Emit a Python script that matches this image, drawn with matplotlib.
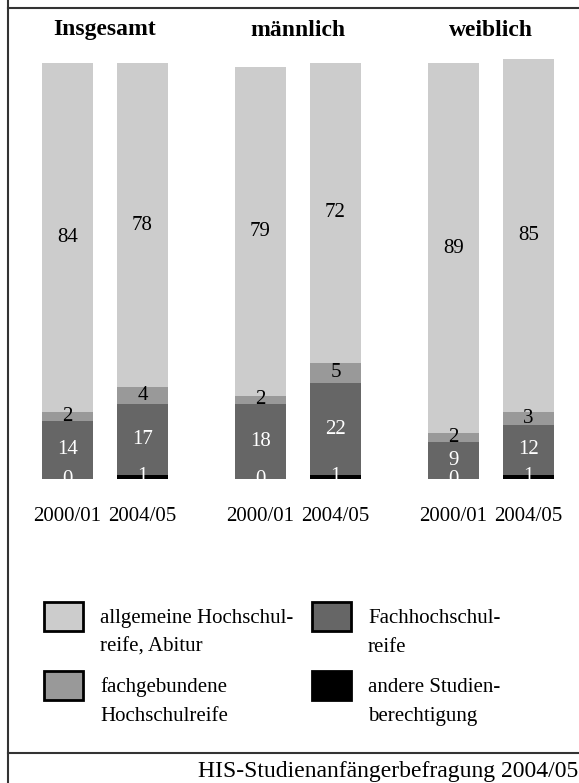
import matplotlib
matplotlib.use("Agg")
import matplotlib.pyplot as plt
from matplotlib.patches import Rectangle
from matplotlib.lines import Line2D

# Data: shares (%) of higher-education entrance qualifications
groups = ["Insgesamt", "männlich", "weiblich"]
years = ["2000/01", "2004/05"]
allgemeine = [84, 78, 79, 72, 89, 85]
fachgebunden = [2, 4, 2, 5, 2, 3]
fachhochschul = [14, 17, 18, 22, 9, 12]
andere = [0, 1, 0, 1, 0, 1]

series_labels = [
    ["allgemeine Hochschul-", "reife, Abitur"],
    ["fachgebundene", "Hochschulreife"],
    ["Fachhochschul-", "reife"],
    ["andere Studien-", "berechtigung"],
]

C_LIGHT, C_MID, C_DARK, C_BLACK = "#cccccc", "#999999", "#666666", "#000000"

W, H, DPI = 579, 783, 100
plt.rcParams["font.family"] = ["Liberation Serif", "DejaVu Serif"]

fig = plt.figure(figsize=(W / DPI, H / DPI), dpi=DPI)


def fx(px):
    return px / W


def fy(py):
    return 1 - py / H


# plotting area: baseline at y=479 px, top at 8 px, 4.16 px per percent
ax_bottom, ax_top = 479, 8
ax = fig.add_axes([0, fy(ax_bottom), 1, (ax_bottom - ax_top) / H])
group_px = 193.0
ax.set_xlim(-105 / group_px, (W - 105) / group_px)
ax.set_ylim(0, (ax_bottom - ax_top) / 4.16)
for s in ax.spines.values():
    s.set_visible(False)
ax.set_yticks([])

off = 37.5 / group_px
width = 51 / group_px
xs = []
for g in range(len(groups)):
    xs += [g - off, g + off]

stack = [
    (andere, C_BLACK, "white"),
    (fachhochschul, C_DARK, "white"),
    (fachgebunden, C_MID, "black"),
    (allgemeine, C_LIGHT, "black"),
]
bottoms = [0] * len(xs)
for vals, col, tcol in stack:
    ax.bar(xs, vals, width=width, bottom=bottoms, color=col, linewidth=0)
    for x, b, v in zip(xs, bottoms, vals):
        ax.text(x, b + v / 2, str(v), ha="center", va="center",
                fontsize=15, color=tcol, clip_on=True)
    bottoms = [b + v for b, v in zip(bottoms, vals)]

ax.set_xticks(xs, years * len(groups))
ax.tick_params(axis="x", length=0, pad=20, labelsize=15)

# group titles
for g, name in enumerate(groups):
    gx = ax.transData.transform((g, 0))[0] / fig.dpi / fig.get_figwidth()
    fig.text(gx, fy(30), name, ha="center", va="center",
             fontsize=17, fontweight="bold")

# legend
legend_items = [
    (44, 602, C_LIGHT, series_labels[0]),
    (44, 671, C_MID, series_labels[1]),
    (312, 602, C_DARK, series_labels[2]),
    (312, 671, C_BLACK, series_labels[3]),
]
for lx, ly, col, lines in legend_items:
    fig.add_artist(Rectangle((fx(lx), fy(ly + 29)), fx(39), 29 / H,
                             facecolor=col, edgecolor="black", linewidth=2,
                             transform=fig.transFigure))
    for i, line in enumerate(lines):
        fig.text(fx(lx + 56), fy(ly + 21 + 29 * i), line, ha="left",
                 va="baseline", fontsize=15)

# frame lines
lc = "#333333"
fig.add_artist(Line2D([fx(8), fx(8)], [0, 1], color=lc, lw=1.5,
                      transform=fig.transFigure))
fig.add_artist(Line2D([fx(8), 1], [fy(8), fy(8)], color=lc, lw=1.5,
                      transform=fig.transFigure))
fig.add_artist(Line2D([fx(8), 1], [fy(753), fy(753)], color=lc, lw=1.5,
                      transform=fig.transFigure))

fig.text(fx(578), fy(777), "HIS-Studienanfängerbefragung 2004/05",
         ha="right", va="baseline", fontsize=17)

fig.savefig("out.png", dpi=DPI)
